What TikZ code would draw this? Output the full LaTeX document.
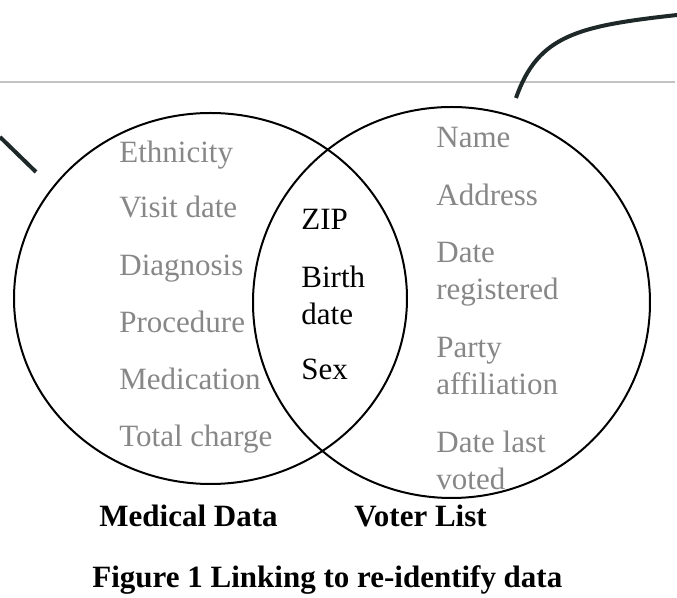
\documentclass[tikz,border=0pt]{standalone}
\usepackage{fontspec}
\setmainfont{Liberation Serif}
\usepackage{tikz}
\definecolor{itemgray}{RGB}{135,135,135}
\definecolor{penblack}{RGB}{30,40,40}
\definecolor{rulegray}{RGB}{195,195,195}

\begin{document}
\begin{tikzpicture}[x=0.5pt, y=-0.5pt,
  item/.style={inner sep=0pt, font=\fontsize{15.5}{18.4}\selectfont},
  gray item/.style={item, text=itemgray},
  key item/.style={item, text=black},
  set label/.style={inner sep=0pt, font=\fontsize{15.5}{18.4}\selectfont\bfseries},
  pen/.style={line width=2pt, draw=penblack},
  set/.style={line width=1pt}]
\useasboundingbox (0, 0) rectangle (677, 598);
\draw [rulegray, line width=0.75pt] (0, 82) -- (675, 82);
\coordinate (slashtop) at (0, 137);
\coordinate (slashend) at (36, 172);
\draw [pen] (slashtop) -- (slashend);
\coordinate (hookstart) at (516, 98);
\coordinate (hookend) at (677, 15);
\draw [pen] (hookstart) .. controls (538, 35) and (578, 26) .. (hookend);
\draw [set] (210.5, 298.5) ellipse (196.5 and 185.5);
\draw [set] (451.5, 302.5) ellipse (198.5 and 195.5);
%Text
\draw (119, 163) node (ethnicity) [anchor=base west] [gray item] {Ethnicity};
\draw (119, 218) node (visitdate) [anchor=base west] [gray item] {Visit date};
\draw (119, 276) node (diagnosis) [anchor=base west] [gray item] {Diagnosis};
\draw (119, 333) node (procedure) [anchor=base west] [gray item] {Procedure};
\draw (119, 390) node (medication) [anchor=base west] [gray item] {Medication};
\draw (119, 447) node (totalcharge) [anchor=base west] [gray item] {Total charge};
\draw (301, 230) node (zip) [anchor=base west] [key item] {ZIP};
\draw (301, 266) node (birthdate) [anchor=north west] [key item] [align=left] {Birth\\date};
\draw (301, 380) node (sex) [anchor=base west] [key item] {Sex};
\draw (436, 148) node (name) [anchor=base west] [gray item] {Name};
\draw (436, 206) node (address) [anchor=base west] [gray item] {Address};
\draw (436, 241.7) node (dateregistered) [anchor=north west] [gray item] [align=left] {Date\\registered};
\draw (436, 336.7) node (partyaffiliation) [anchor=north west] [gray item] [align=left] {Party\\affiliation};
\draw (436, 430.8) node (datelastvoted) [anchor=north west] [gray item] [align=left] {Date last\\voted};
\draw (99, 527) node (medicallabel) [anchor=base west] [set label] {Medical Data};
\draw (354, 527) node (voterlabel) [anchor=base west] [set label] {Voter List};
\draw (92, 588) node (figcaption) [anchor=base west] [set label] {Figure 1 Linking to re-identify data};
\end{tikzpicture}
\end{document}
